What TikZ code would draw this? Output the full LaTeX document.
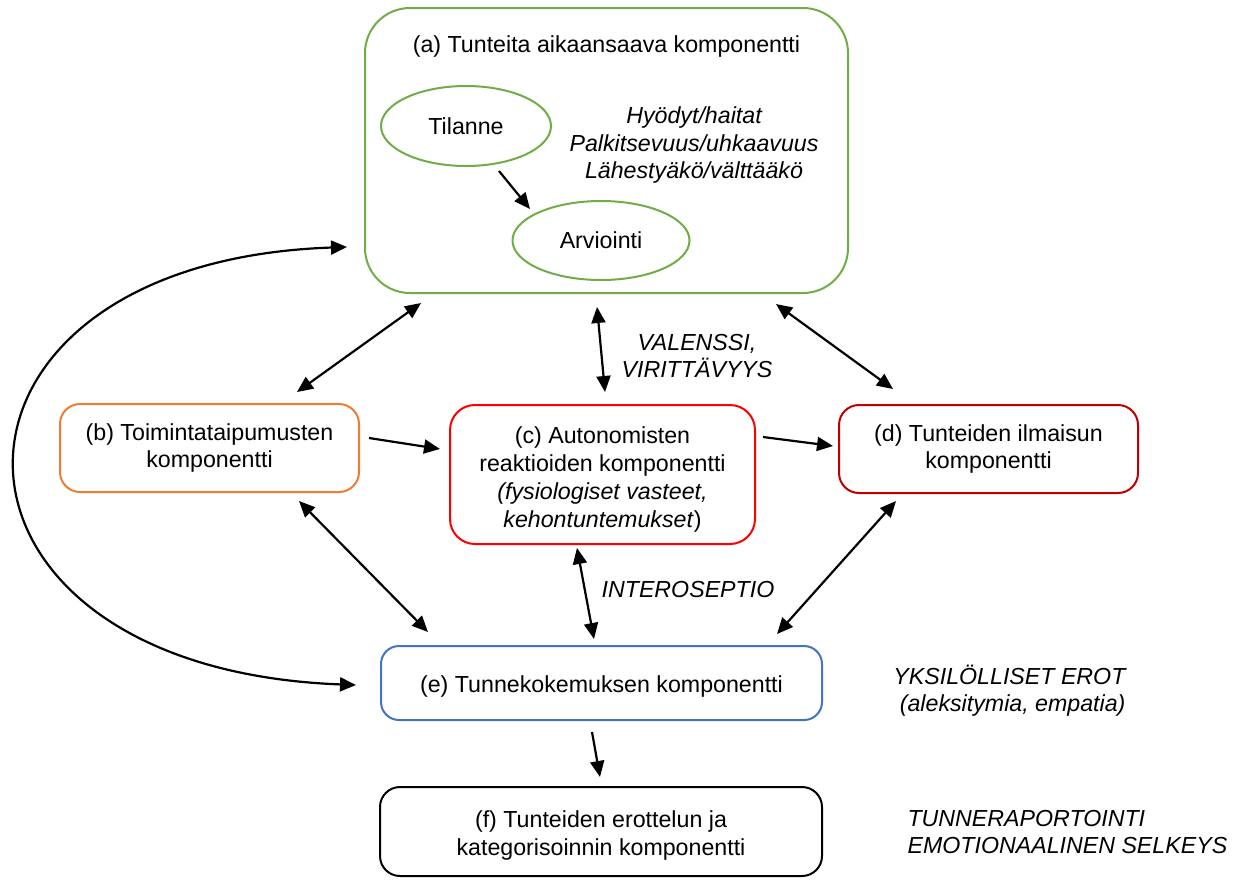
\documentclass[tikz,border=0pt]{standalone}
\usepackage{fontspec}
\setmainfont{Liberation Sans}
\usetikzlibrary{shapes.geometric,arrows.meta,calc}
\definecolor{cgreen}{HTML}{70AD47}
\definecolor{corange}{HTML}{ED7D31}
\definecolor{cred}{HTML}{FF0000}
\definecolor{cdred}{HTML}{C00000}
\definecolor{cblue}{HTML}{4472C4}
\begin{document}
\begin{tikzpicture}[x=1pt,y=-1pt,
  every node/.style={font=\fontsize{23.2}{27.7}\selectfont, align=center},
  comp/.style={draw, line width=2pt, rounded corners=20pt, inner sep=0pt},
  oval/.style={draw=cgreen, line width=2pt, ellipse, inner sep=0pt},
  conn/.style={line width=2.2pt, -{Triangle[length=16pt,width=14pt]}},
  bconn/.style={line width=2.2pt, {Triangle[length=16pt,width=14pt]}-{Triangle[length=16pt,width=14pt]}},
  note/.style={font=\fontsize{23.2}{27.5}\selectfont\itshape}]
\useasboundingbox (0,0) rectangle (1234,879);
% boxes
\node[comp, draw=cgreen, rounded corners=45pt, minimum width=483pt, minimum height=285pt] (a) at (606.5,150.5) {};
\node (atitle) at (606.5,46) {(a) Tunteita aikaansaava komponentti};
\node[oval, minimum width=170pt, minimum height=80pt] (til) at (466,126) {Tilanne};
\node[oval, minimum width=177pt, minimum height=79pt] (arv) at (601,240.5) {Arviointi};
\node[note] (hyod) at (694,145) {Hyödyt/haitat\\Palkitsevuus/uhkaavuus\\Lähestyäkö/välttääkö};
\node[comp, draw=corange, minimum width=299pt, minimum height=88pt] (b) at (209.5,448) {(b) Toimintataipumusten\\komponentti};
\node[comp, draw=cred, rounded corners=25pt, minimum width=305pt, minimum height=139pt] (c) at (602.5,474.5) {};
\node (ctext) at (602.5,479.5) {(c) Autonomisten\\reaktioiden komponentti\\\textit{(fysiologiset vasteet,}\\\textit{kehontuntemukset})};
\node[comp, draw=cdred, minimum width=299pt, minimum height=88pt] (d) at (988.5,449) {(d) Tunteiden ilmaisun\\komponentti};
\node[comp, draw=cblue, rounded corners=18pt, minimum width=441pt, minimum height=74pt] (e) at (601.5,683) {};
\node (etext) at (601.5,686) {(e) Tunnekokemuksen komponentti};
\node[comp, draw=black, minimum width=442pt, minimum height=89pt] (f) at (601,831.5) {};
\node (ftext) at (601,835.5) {(f) Tunteiden erottelun ja\\kategorisoinnin komponentti};
% labels
\node[note] (val) at (697,356) {VALENSSI,\\VIRITTÄVYYS};
\node[note] (intero) at (688,590) {INTEROSEPTIO};
\node[note, anchor=east, align=right] (yks) at (1129,690.5) {YKSILÖLLISET EROT\\(aleksitymia, empatia)};
\node[note, anchor=west, align=left] (tun) at (904,832) {TUNNERAPORTOINTI\\EMOTIONAALINEN SELKEYS};
% connectors
\draw[conn] ($(til.south)+(33,4)$) -- ($(arv.north)+(-71,9)$);
\draw[bconn] ($(b.north)+(87.5,-11)$) -- ($(a.south)+(-185.5,9)$);
\draw[bconn] ($(a.south)+(-9.5,13)$) -- ($(c.north)+(2.5,-12)$);
\draw[bconn] ($(a.south)+(169.5,10)$) -- ($(d.north)+(-95.5,-15)$);
\draw[conn] ($(b.east)+(9,-10)$) -- ($(c.west)+(-9,-25.5)$);
\draw[conn] ($(c.east)+(7,-37.5)$) -- ($(d.west)+(-5,-3)$);
\draw[bconn] ($(b.south)+(89.5,8)$) -- ($(e.north)+(-173.5,-13)$);
\draw[bconn] ($(c.south)+(-25.5,3)$) -- ($(e.north)+(-7.5,-6)$);
\draw[bconn] ($(d.south)+(-92.5,7)$) -- ($(e.north)+(175.5,-11)$);
\draw[conn] ($(e.south)+(-9.5,11)$) -- ($(f.north)+(-1,-9)$);
\draw[bconn] ($(e.west)+(-24,2)$) .. controls (-95,668) and (-95,262) .. ($(a.west)+(-17,96.5)$);
\end{tikzpicture}
\end{document}
